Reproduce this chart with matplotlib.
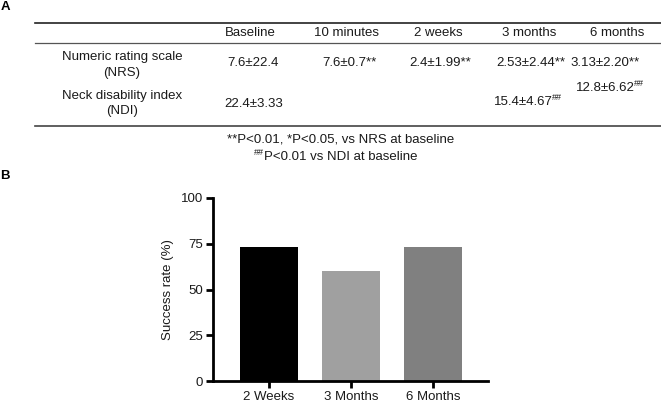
import matplotlib.pyplot as plt
from matplotlib.lines import Line2D

plt.rcParams['font.family'] = ['Liberation Sans', 'DejaVu Sans']

# table data (panel A)
col_names = ["Baseline", "10 minutes", "2 weeks", "3 months", "6 months"]
row_names = ["Numeric rating scale\n(NRS)", "Neck disability index\n(NDI)"]
nrs_vals = ["7.6±22.4", "7.6±0.7**", "2.4±1.99**", "2.53±2.44**", "3.13±2.20**"]
ndi_vals = ["22.4±3.33", "", "", "15.4±4.67", "12.8±6.62"]
ndi_marks = ["", "", "", "##", "##"]

# bar data (panel B)
periods = ["2 Weeks", "3 Months", "6 Months"]
success = [73.3, 60.0, 73.3]
bar_colors = ["#000000", "#a0a0a0", "#808080"]

W, H = 661, 403
fig = plt.figure(figsize=(W / 100, H / 100), dpi=100)


def fx(px):
    return px / W


def fy(py):
    return 1 - py / H


fs = 9.5
txt = "#1a1a1a"

# panel B bar chart (made first so annotations have an axes to live on)
ax = fig.add_axes([fx(213), fy(381), fx(488) - fx(213), fy(198) - fy(381)])
ax.bar(range(len(periods)), success, width=0.7, color=bar_colors)
ax.set_xlim(-0.68, 2.67)
ax.set_ylim(0, 100)
ax.set_yticks([0, 25, 50, 75, 100])
ax.set_xticks(range(len(periods)))
ax.set_xticklabels(periods)
ax.set_ylabel("Success rate (%)", fontsize=fs, labelpad=5, color=txt)
for s in ["top", "right"]:
    ax.spines[s].set_visible(False)
for s in ["left", "bottom"]:
    ax.spines[s].set_linewidth(2)
ax.tick_params(width=2, length=5, labelsize=fs, pad=2, labelcolor=txt)

# panel letters
fig.text(fx(5), fy(7), "A", fontsize=9.5, fontweight="bold", va="center", ha="center")
fig.text(fx(5), fy(176), "B", fontsize=9.5, fontweight="bold", va="center", ha="center")

# table rules
fig.add_artist(Line2D([fx(35), fx(661)], [fy(23), fy(23)], color="#222222", lw=1.2))
fig.add_artist(Line2D([fx(35), fx(661)], [fy(43), fy(43)], color="#555555", lw=0.9))
fig.add_artist(Line2D([fx(35), fx(661)], [fy(126), fy(126)], color="#444444", lw=1.2))

head_x = [250, 347, 438, 529, 617]
for x, name in zip(head_x, col_names):
    fig.text(fx(x), fy(33), name, fontsize=fs, ha="center", va="center", color=txt)

fig.text(fx(122), fy(65), row_names[0], fontsize=fs, ha="center", va="center",
         linespacing=1.35, color=txt)
fig.text(fx(122), fy(103.5), row_names[1], fontsize=fs, ha="center", va="center",
         linespacing=1.35, color=txt)

nrs_x = [253, 349, 440, 531, 605]
for x, v in zip(nrs_x, nrs_vals):
    fig.text(fx(x), fy(63), v, fontsize=fs, ha="center", va="center", color=txt)

ndi_x = [254, 349, 440, 523, 605]
ndi_y = [104, 104, 104, 102, 88]
for x, y, v, m in zip(ndi_x, ndi_y, ndi_vals, ndi_marks):
    if not v:
        continue
    t = fig.text(fx(x), fy(y), v, fontsize=fs, ha="center", va="center", color=txt)
    if m:
        ax.annotate(m, xy=(1.0, 0.9), xycoords=t, fontsize=6.5, ha="left",
                    va="center", color=txt, annotation_clip=False)

# footnotes
fig.text(fx(341), fy(140), "**P<0.01, *P<0.05, vs NRS at baseline", fontsize=fs,
         ha="center", va="center", color=txt)
f2 = fig.text(fx(341), fy(157), "P<0.01 vs NDI at baseline", fontsize=fs,
              ha="center", va="center", color=txt)
ax.annotate("##", xy=(0, 0.9), xycoords=f2, fontsize=6.5, ha="right", va="center",
            color=txt, annotation_clip=False)

fig.savefig("out.png", dpi=100)
